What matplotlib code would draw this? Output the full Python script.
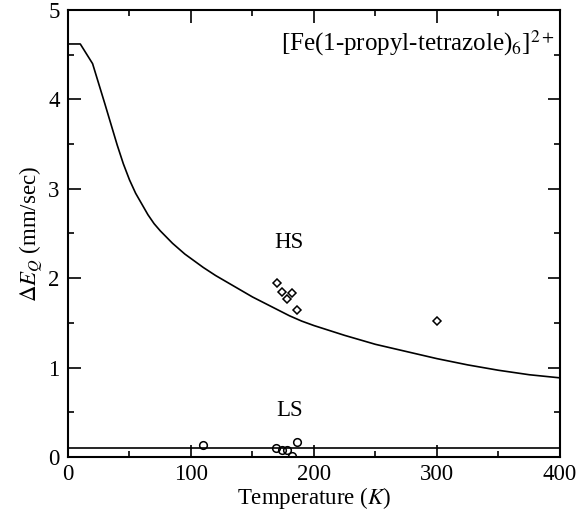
import matplotlib
matplotlib.use("Agg")
import matplotlib.pyplot as plt
from matplotlib.ticker import MultipleLocator

plt.rcParams['font.family'] = ['Liberation Serif', 'DejaVu Serif']
plt.rcParams['mathtext.fontset'] = 'stix'

# theory curve
temp_curve = [0, 10, 20, 30, 40, 45, 50, 55, 60, 65, 70, 75, 80, 85, 90, 95, 100,
              110, 120, 130, 140, 150, 160, 170, 180, 190, 200, 225, 250, 275, 300,
              325, 350, 375, 400]
dEq_curve = [4.62, 4.62, 4.40, 3.95, 3.49, 3.28, 3.10, 2.95, 2.83, 2.71, 2.61, 2.53,
             2.46, 2.39, 2.33, 2.27, 2.22, 2.12, 2.03, 1.95, 1.87, 1.79, 1.72, 1.65,
             1.58, 1.52, 1.47, 1.36, 1.26, 1.18, 1.10, 1.03, 0.97, 0.92, 0.885]

# low spin line
ls_level = 0.10

# measured points
temp_hs = [170, 174, 178, 182, 186, 300]
dEq_hs = [1.95, 1.85, 1.77, 1.83, 1.64, 1.52]
temp_ls = [110, 169, 174, 178, 182, 186]
dEq_ls = [0.13, 0.10, 0.08, 0.075, 0.01, 0.17]

fig = plt.figure(figsize=(5.84, 5.13), dpi=100)
ax = fig.add_axes([0.1164, 0.1092, 0.8425, 0.8713])

ax.plot(temp_curve, dEq_curve, color='black', lw=1.2)
ax.axhline(ls_level, color='black', lw=1.2)
ax.plot(temp_hs, dEq_hs, linestyle='none', marker='D', ms=4.2, mfc='white',
        mec='black', mew=1.1)
ax.plot(temp_ls, dEq_ls, linestyle='none', marker='o', ms=5.5, mfc='none',
        mec='black', mew=1.1)

ax.set_xlim(0, 400)
ax.set_ylim(0, 5)
ax.xaxis.set_major_locator(MultipleLocator(100))
ax.xaxis.set_minor_locator(MultipleLocator(50))
ax.yaxis.set_major_locator(MultipleLocator(1))
ax.yaxis.set_minor_locator(MultipleLocator(0.5))
ax.tick_params(which='both', direction='in', top=True, right=True, width=1.2,
               labelsize=16.5)
ax.tick_params(which='major', length=9)
ax.tick_params(which='minor', length=4.5)
ax.tick_params(axis='y', pad=6)
ax.tick_params(axis='x', pad=5)
for s in ax.spines.values():
    s.set_linewidth(1.5)

ax.set_xlabel('Temperature ($K$)', fontsize=16.5, labelpad=0)
ax.set_ylabel(r'$\Delta E_Q$ (mm/sec)', fontsize=16.5, labelpad=2)

ax.text(0.99, 0.925, r'[Fe(1-propyl-tetrazole)$_6$]$^{2+}$', transform=ax.transAxes,
        ha='right', va='center', fontsize=18)
ax.text(180, 2.4, 'HS', ha='center', va='center', fontsize=16.5)
ax.text(180, 0.52, 'LS', ha='center', va='center', fontsize=16.5)

fig.savefig('out.png', dpi=100)
